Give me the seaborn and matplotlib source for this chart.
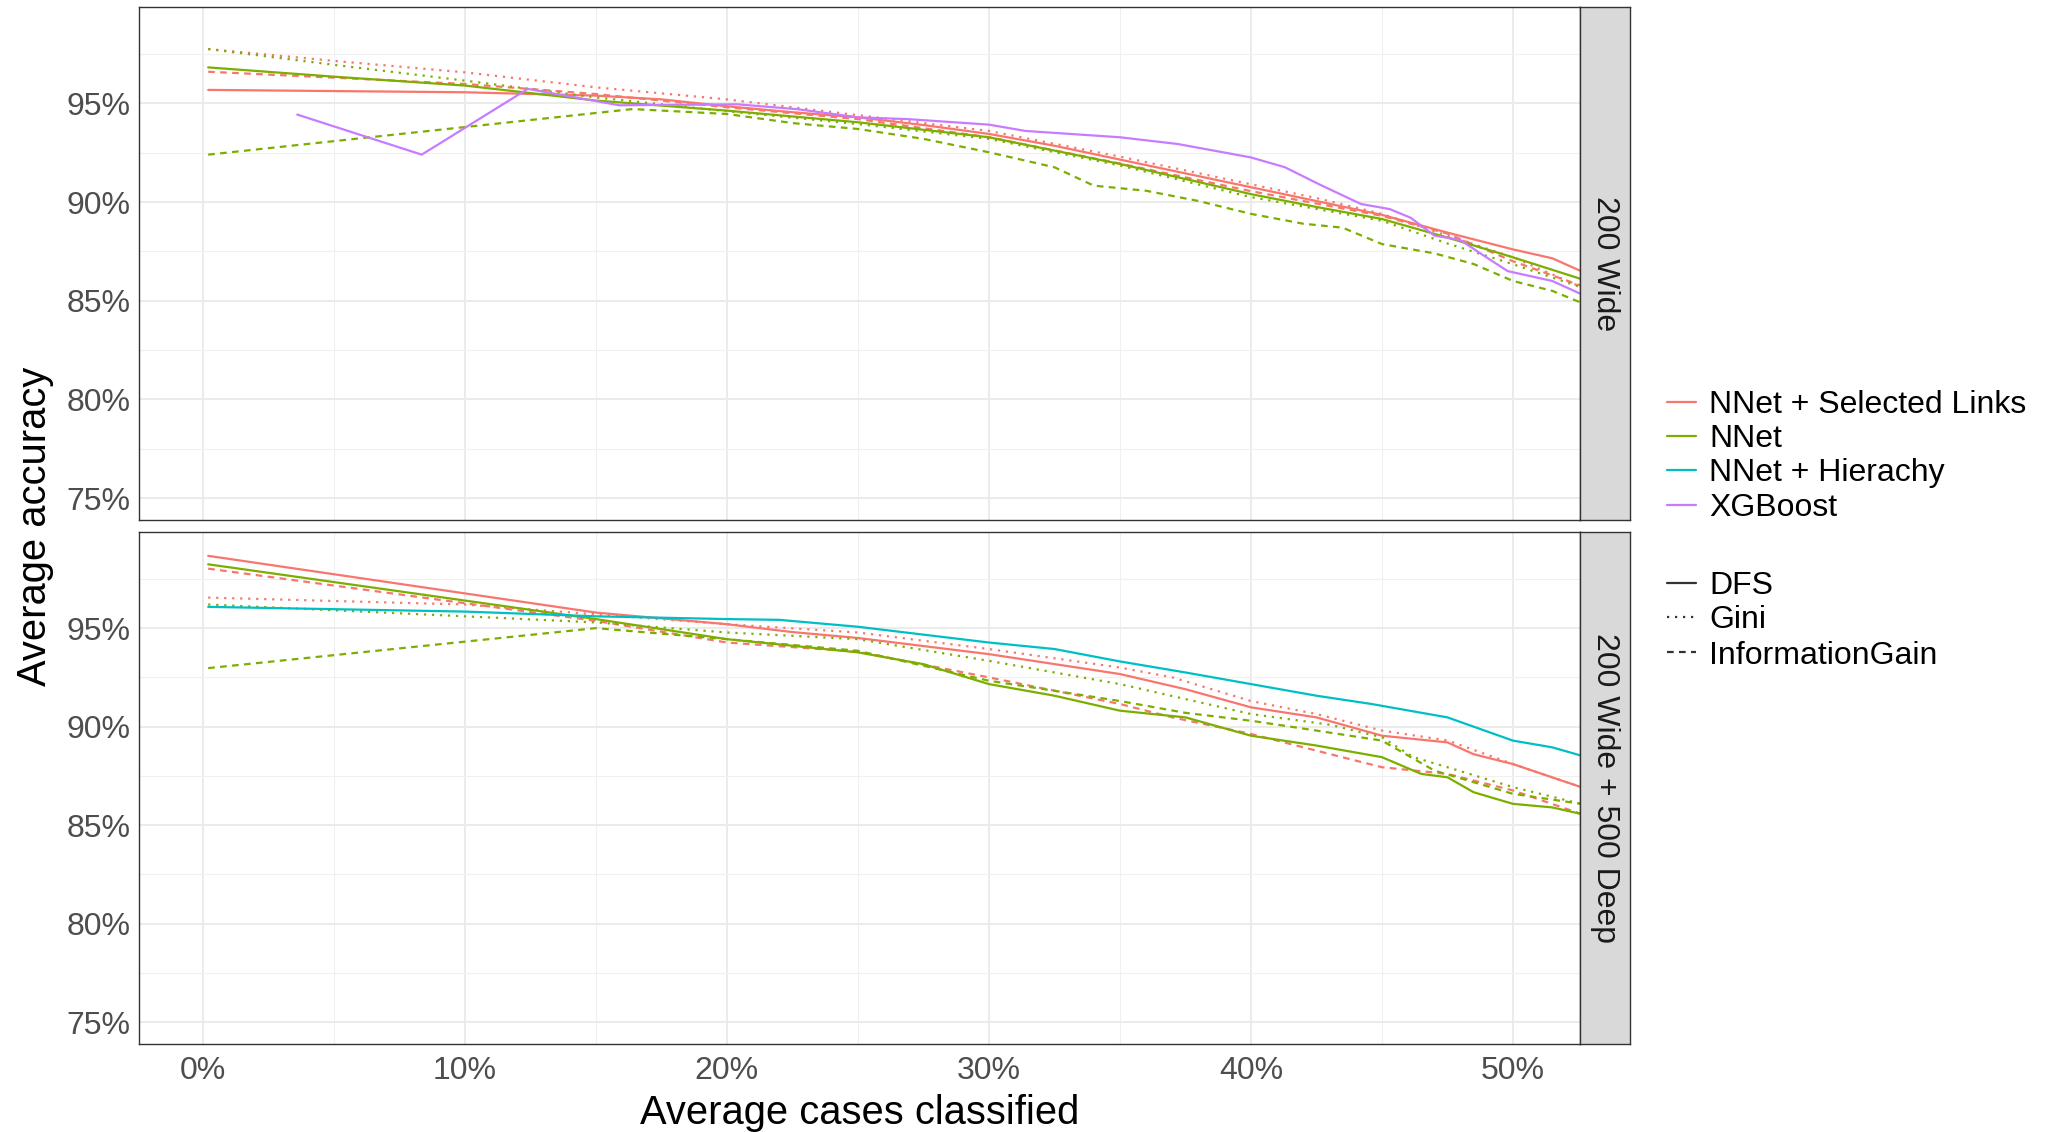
import numpy as np
import pandas as pd
import matplotlib
matplotlib.use("Agg")
import matplotlib.pyplot as plt
import seaborn as sns
from matplotlib.lines import Line2D
from matplotlib.ticker import FuncFormatter

sns.set_theme(style="white")
plt.rcParams["font.family"] = ["Liberation Sans", "DejaVu Sans"]

# ---------------- data (percent) ----------------
models = ["NNet + Selected Links", "NNet", "NNet + Hierachy", "XGBoost"]
methods = ["DFS", "Gini", "InformationGain"]
panels = ["200 Wide", "200 Wide + 500 Deep"]
model_colors = ["#F8766D", "#7CAE00", "#00BFC4", "#C77CFF"]
x_ticks = [0, 10, 20, 30, 40, 50]
y_ticks = [75, 80, 85, 90, 95]

# Panel "200 Wide"
w_sl_dfs_x = [0.2, 10, 15, 17.5, 20, 22.5, 25, 27.5, 30, 32.5, 35, 37.5, 40, 42.5, 45, 47.5, 50, 51.5, 52.6]
w_sl_dfs_y = [95.68, 95.56, 95.39, 95.2, 94.85, 94.55, 94.29, 93.9, 93.45, 92.85, 92.15, 91.45, 90.75, 90.05, 89.35, 88.45, 87.6, 87.15, 86.5]
w_sl_gini_x = [0.2, 5, 10, 15, 20, 22.5, 25, 30, 35, 37.5, 40, 42.5, 45, 47.5, 50, 52.6]
w_sl_gini_y = [97.75, 97.15, 96.57, 95.81, 95.2, 94.8, 94.4, 93.6, 92.3, 91.6, 90.9, 90.2, 89.4, 88.3, 87.2, 85.7]
w_sl_ig_x = [0.2, 5, 10, 15, 20, 25, 30, 35, 40, 45, 47.5, 50, 52.6]
w_sl_ig_y = [96.6, 96.3, 95.98, 95.47, 94.8, 94.2, 93.28, 91.95, 90.55, 89.3, 88.4, 87.0, 85.76]
w_nn_dfs_x = [0.2, 5, 10, 15, 20, 25, 30, 35, 40, 42.5, 45, 47.5, 50, 52.6]
w_nn_dfs_y = [96.82, 96.35, 95.9, 95.14, 94.63, 94.04, 93.28, 91.93, 90.4, 89.75, 89.14, 88.2, 87.2, 86.1]
w_nn_gini_x = [0.2, 5, 10, 15, 20, 25, 30, 35, 40, 45, 47.5, 50, 52.6]
w_nn_gini_y = [97.75, 96.95, 96.15, 95.3, 94.6, 93.95, 93.2, 91.85, 90.25, 89.05, 87.9, 86.85, 85.68]
w_nn_ig_x = [0.2, 16.4, 20, 22.5, 25, 27.5, 30, 32.5, 34, 36, 38, 40, 42, 43.5, 45, 47, 48.5, 50, 51.5, 52.6]
w_nn_ig_y = [92.4, 94.71, 94.46, 94.0, 93.7, 93.2, 92.52, 91.76, 90.83, 90.57, 90.05, 89.4, 88.9, 88.7, 87.87, 87.4, 86.86, 86.0, 85.5, 84.9]
w_xgb_dfs_x = [3.6, 8.35, 12.4, 15.9, 20.4, 22.7, 25, 26.9, 30, 31.4, 35, 37.2, 40, 41.3, 42.6, 44.2, 45.3, 46.1, 47, 48, 48.8, 49.8, 51.5, 52.6]
w_xgb_dfs_y = [94.43, 92.4, 95.73, 94.9, 94.95, 94.7, 94.29, 94.2, 93.92, 93.6, 93.28, 92.94, 92.26, 91.76, 90.9, 89.9, 89.64, 89.2, 88.3, 88.07, 87.36, 86.5, 86.0, 85.34]

# Panel "200 Wide + 500 Deep"
d_sl_dfs_x = [0.2, 15, 20, 22.5, 25, 30, 35, 37.5, 40, 42.5, 45, 47.5, 48.5, 50, 52.6]
d_sl_dfs_y = [98.67, 95.79, 95.2, 94.8, 94.5, 93.68, 92.67, 91.9, 90.98, 90.47, 89.54, 89.2, 88.6, 88.1, 86.93]
d_sl_gini_x = [0.2, 10, 15, 20, 25, 30, 35, 37, 40, 42.5, 45, 47.5, 50, 52.6]
d_sl_gini_y = [96.55, 96.2, 95.7, 95.2, 94.78, 93.94, 93.0, 92.5, 91.3, 90.64, 89.8, 89.3, 88.1, 86.93]
d_sl_ig_x = [0.2, 15, 20, 25, 30, 35, 37, 40, 42.5, 45, 47.5, 50, 52.6]
d_sl_ig_y = [98.02, 95.37, 94.27, 93.8, 92.5, 91.15, 90.47, 89.63, 88.78, 87.94, 87.6, 86.76, 85.57]
d_nn_dfs_x = [0.2, 15, 20, 25, 27.5, 30, 32.5, 35, 37.5, 40, 42.5, 45, 46.5, 47.5, 48.5, 50, 51.5, 52.6]
d_nn_dfs_y = [98.24, 95.46, 94.44, 93.77, 93.17, 92.16, 91.57, 90.81, 90.47, 89.54, 89.04, 88.45, 87.6, 87.43, 86.67, 86.08, 85.9, 85.57]
d_nn_gini_x = [0.2, 10, 15, 20, 25, 30, 35, 40, 43, 45, 46.2, 47.5, 50, 52.6]
d_nn_gini_y = [96.2, 95.6, 95.29, 94.78, 94.44, 93.34, 92.16, 90.64, 90.1, 89.46, 88.45, 87.94, 86.93, 86.08]
d_nn_ig_x = [0.2, 15, 20, 25, 30, 32.5, 35, 37.5, 40, 42.5, 45, 47, 50, 52.6]
d_nn_ig_y = [92.97, 95.0, 94.44, 93.85, 92.33, 91.82, 91.3, 90.7, 90.3, 89.8, 89.29, 87.77, 86.59, 86.08]
d_hi_dfs_x = [0.2, 10, 15, 20, 22, 25, 30, 32.5, 35, 37.5, 40, 42.5, 44.6, 47.5, 50, 51.5, 52.6]
d_hi_dfs_y = [96.08, 95.84, 95.6, 95.46, 95.42, 95.07, 94.27, 93.94, 93.31, 92.75, 92.16, 91.57, 91.15, 90.47, 89.29, 88.95, 88.53]

series = [
    (panels[0], models[0], "DFS", w_sl_dfs_x, w_sl_dfs_y),
    (panels[0], models[0], "Gini", w_sl_gini_x, w_sl_gini_y),
    (panels[0], models[0], "InformationGain", w_sl_ig_x, w_sl_ig_y),
    (panels[0], models[1], "DFS", w_nn_dfs_x, w_nn_dfs_y),
    (panels[0], models[1], "Gini", w_nn_gini_x, w_nn_gini_y),
    (panels[0], models[1], "InformationGain", w_nn_ig_x, w_nn_ig_y),
    (panels[0], models[3], "DFS", w_xgb_dfs_x, w_xgb_dfs_y),
    (panels[1], models[0], "DFS", d_sl_dfs_x, d_sl_dfs_y),
    (panels[1], models[0], "Gini", d_sl_gini_x, d_sl_gini_y),
    (panels[1], models[0], "InformationGain", d_sl_ig_x, d_sl_ig_y),
    (panels[1], models[1], "DFS", d_nn_dfs_x, d_nn_dfs_y),
    (panels[1], models[1], "Gini", d_nn_gini_x, d_nn_gini_y),
    (panels[1], models[1], "InformationGain", d_nn_ig_x, d_nn_ig_y),
    (panels[1], models[2], "DFS", d_hi_dfs_x, d_hi_dfs_y),
]
rows = []
for panel, model, method, xs, ys in series:
    for xv, yv in zip(xs, ys):
        rows.append({"panel": panel, "model": model, "method": method, "x": xv, "acc": yv})
df = pd.DataFrame(rows)

palette = dict(zip(models, model_colors))
dash_map = {"DFS": "", "Gini": (1, 2.6), "InformationGain": (3, 2.4)}
LW = 1.6

# ---------------- layout ----------------
W, H = 2050, 1132
fig = plt.figure(figsize=(W / 100, H / 100), dpi=100)
fig.patch.set_facecolor("white")

def fx(px):
    return px / W

def fy(py):
    return 1 - py / H

L, R = 139, 1580
SR = 1630
panel_rows = [(7, 520), (532, 1044)]
ylim = (73.89, 99.88)
xlim = (-2.44, 52.56)

for i, (panel, (t, b)) in enumerate(zip(panels, panel_rows)):
    ax = fig.add_axes([fx(L), fy(b), (R - L) / W, (b - t) / H])
    sub = df[df["panel"] == panel]
    sns.lineplot(data=sub, x="x", y="acc", hue="model", style="method",
                 hue_order=models, style_order=methods, palette=palette,
                 dashes=dash_map, linewidth=LW, legend=False, ax=ax,
                 estimator=None, errorbar=None)
    ax.set_xlim(*xlim)
    ax.set_ylim(*ylim)
    ax.set_xticks(x_ticks)
    ax.set_xticks([5, 15, 25, 35, 45], minor=True)
    ax.set_yticks(y_ticks)
    ax.set_yticks([77.5, 82.5, 87.5, 92.5, 97.5], minor=True)
    ax.grid(which="major", color="#EBEBEB", linewidth=1.4)
    ax.grid(which="minor", color="#F0F0F0", linewidth=0.8)
    ax.set_axisbelow(True)
    ax.set_facecolor("white")
    for s in ax.spines.values():
        s.set_color("#333333")
        s.set_linewidth(1.0)
    ax.yaxis.set_major_formatter(FuncFormatter(lambda v, p: f"{v:.0f}%"))
    ax.xaxis.set_major_formatter(FuncFormatter(lambda v, p: f"{v:.0f}%"))
    ax.tick_params(which="major", direction="out", length=4.3, width=1.0,
                   color="#333333", labelcolor="#4D4D4D", labelsize=23, pad=2)
    ax.tick_params(axis="x", which="major", pad=4)
    ax.tick_params(which="minor", length=0)
    ax.set_xlabel("")
    ax.set_ylabel("")
    if i == 0:
        ax.tick_params(axis="x", which="major", length=0, labelbottom=False)

    # strip
    sax = fig.add_axes([fx(R), fy(b), (SR - R) / W, (b - t) / H])
    sax.set_facecolor("#D9D9D9")
    sax.set_xticks([])
    sax.set_yticks([])
    for s in sax.spines.values():
        s.set_color("#333333")
        s.set_linewidth(1.0)
    sax.text(0.5, 0.5, panel, rotation=-90, ha="center", va="center",
             fontsize=23, color="#1A1A1A", transform=sax.transAxes)

# axis titles
fig.text(fx(35), fy(526), "Average accuracy", rotation=90, ha="center", va="center",
         fontsize=28.7, color="black")
fig.text(fx((L + R) / 2), fy(1113), "Average cases classified", ha="center", va="center",
         fontsize=28.7, color="black")

# legends
key_x0, key_x1, text_x = 1667, 1696, 1709
color_rows = [402, 436, 470, 505]
for m, c, yy in zip(models, model_colors, color_rows):
    fig.add_artist(Line2D([fx(key_x0), fx(key_x1)], [fy(yy), fy(yy)], color=c,
                          linewidth=LW, transform=fig.transFigure))
    fig.text(fx(text_x), fy(yy + 11.5), m, ha="left", va="baseline", fontsize=23, color="black")
lt_rows = [583, 617, 652]
for m, yy in zip(methods, lt_rows):
    ln = Line2D([fx(key_x0), fx(key_x1)], [fy(yy), fy(yy)], color="#333333",
                linewidth=LW, transform=fig.transFigure)
    if dash_map[m] != "":
        ln.set_dashes(dash_map[m])
    fig.add_artist(ln)
    fig.text(fx(text_x), fy(yy + 11.5), m, ha="left", va="baseline", fontsize=23, color="black")

fig.savefig("out.png", dpi=100, facecolor="white")
